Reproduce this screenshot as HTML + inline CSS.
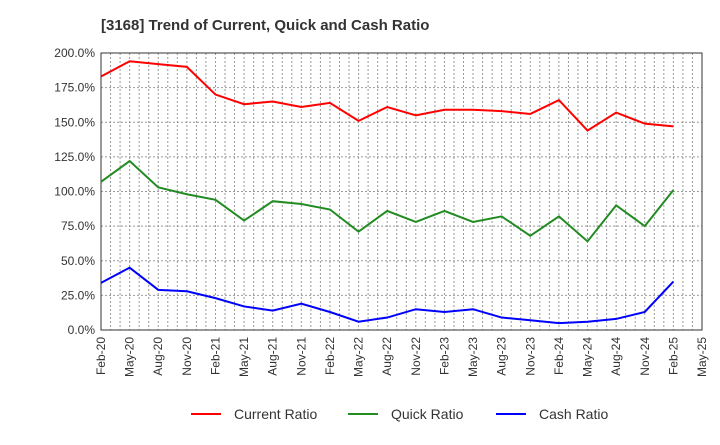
<!DOCTYPE html><html><head><meta charset="utf-8"><style>body{margin:0;background:#fff;font-family:"Liberation Sans",sans-serif}</style></head><body>
<svg id="c" width="720" height="440" xmlns="http://www.w3.org/2000/svg">
<text x="101" y="30" font-size="15" font-weight="bold" fill="#333">[3168]  Trend of Current, Quick and Cash Ratio</text>
</svg>
<script>
const labels=["Feb-20","May-20","Aug-20","Nov-20","Feb-21","May-21","Aug-21","Nov-21","Feb-22","May-22","Aug-22","Nov-22","Feb-23","May-23","Aug-23","Nov-23","Feb-24","May-24","Aug-24","Nov-24","Feb-25","May-25"];
const yTicks=[0,25,50,75,100,125,150,175,200];
const current=[183,194,192,190,170,163,165,161,164,151,161,155,159,159,158,156,166,144,157,149,147];
const quick=[107,122,103,98,94,79,93,91,87,71,86,78,86,78,82,68,82,64,90,75,101];
const cash=[34,45,29,28,23,17,14,19,13,6,9,15,13,15,9,7,5,6,8,13,35];
const svg=document.getElementById('c'),NS="http://www.w3.org/2000/svg";
const L=101,R=702,T=53,B=330;
const x=i=>L+i*(R-L)/21, y=v=>B-v*(B-T)/200;
function mk(t,a){const e=document.createElementNS(NS,t);for(const k in a)e.setAttribute(k,a[k]);svg.appendChild(e);return e;}
for(let m=1;m<63;m++){const xx=L+m*(R-L)/63;const g=mk('line',{x1:xx,x2:xx,y1:T,y2:B,stroke:'#999','stroke-dasharray':'2,2'});

}
yTicks.forEach(v=>{const g=mk('line',{x1:L,x2:R,y1:y(v),y2:y(v),stroke:'#999','stroke-dasharray':'2,2'});


const t=mk('text',{x:L-6,y:y(v)+4,'text-anchor':'end','font-size':12,fill:'#333'});t.textContent=v.toFixed(1)+'%';

});
labels.forEach((s,i)=>{const t=mk('text',{transform:`translate(${x(i)+4},${B+7}) rotate(-90)`,'text-anchor':'end','font-size':12,fill:'#333'});t.textContent=s;

});
const fr=mk('rect',{x:L,y:T,width:R-L,height:B-T,fill:'none',stroke:'#333'});


[[current,'#f00','current-ratio-line'],[quick,'#228b22','quick-ratio-line'],[cash,'#00f','cash-ratio-line']].forEach(([d,c,n])=>{
const p=mk('polyline',{points:d.map((v,i)=>x(i)+','+y(v)).join(' '),fill:'none',stroke:c,'stroke-width':2});

});
[['Current Ratio','#f00',191],['Quick Ratio','#228b22',348],['Cash Ratio','#00f',496]].forEach(([s,c,lx])=>{
const l=mk('line',{x1:lx,x2:lx+30,y1:414,y2:414,stroke:c,'stroke-width':2});


const t=mk('text',{x:lx+43,y:419,'font-size':14,fill:'#333'});t.textContent=s;

});
</script></body></html>
